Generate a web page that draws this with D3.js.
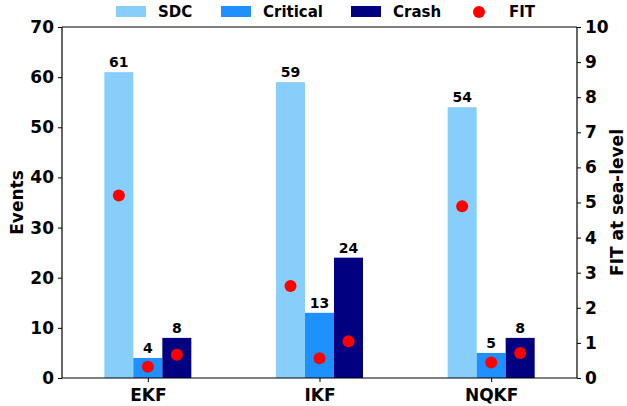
<!DOCTYPE html>
<html>
<head>
<meta charset="utf-8">
<script src="https://cdn.jsdelivr.net/npm/d3@7"></script>
<style>
  body { margin: 0; background: #fff; }
  text { font-family: "DejaVu Sans", sans-serif; font-weight: bold; }
</style>
</head>
<body>
<script>
"use strict";

// data
let filters = ["EKF", "IKF", "NQKF"];
let series = ["SDC", "Critical", "Crash"];
let colors = ["#87CEFA", "#1E90FF", "#000080"];
let sdc = [61, 59, 54];
let critical = [4, 13, 5];
let crash = [8, 24, 8];
let fitSdc = [5.2, 2.62, 4.89];
let fitCritical = [0.32, 0.56, 0.44];
let fitCrash = [0.66, 1.05, 0.71];
let eventTicks = [0, 10, 20, 30, 40, 50, 60, 70];
let fitTicks = [0, 1, 2, 3, 4, 5, 6, 7, 8, 9, 10];

let W = 627, H = 406;
let margin = {top: 27, right: 50, bottom: 28, left: 62};
let width = W - margin.left - margin.right,
    height = H - margin.top - margin.bottom;

let svg = d3.select("body").append("svg")
    .attr("width", W)
    .attr("height", H);

let g = svg.append("g")
    .attr("transform", "translate(" + margin.left + "," + margin.top + ")");

let x = d3.scalePoint().domain(filters).range([0, width]).padding(0.5);
let y = d3.scaleLinear().domain([0, 70]).range([height, 0]);
let y2 = d3.scaleLinear().domain([0, 10]).range([height, 0]);

let barW = 29;
let counts = [sdc, critical, crash];
let fits = [fitSdc, fitCritical, fitCrash];

let rows = [];
filters.forEach(function (f, i) {
    series.forEach(function (s, j) {
        rows.push({filter: f, s: j, v: counts[j][i], fit: fits[j][i]});
    });
});

function bx(d) {
    return x(d.filter) + (d.s - 1) * barW;
}

// bars
g.selectAll("rect.bar")
    .data(rows)
    .enter().append("rect")
    .attr("class", "bar")
    .attr("x", d => bx(d) - barW / 2)
    .attr("width", barW)
    .attr("y", d => y(d.v))
    .attr("height", d => height - y(d.v))
    .attr("fill", d => colors[d.s]);

// value labels
g.selectAll("text.val")
    .data(rows)
    .enter().append("text")
    .attr("class", "val")
    .attr("x", d => bx(d))
    .attr("y", d => y(d.v) - 5)
    .attr("text-anchor", "middle")
    .style("font-size", "14px")
    .text(d => d.v);

// FIT dots
g.selectAll("circle.fit")
    .data(rows)
    .enter().append("circle")
    .attr("class", "fit")
    .attr("cx", d => bx(d))
    .attr("cy", d => y2(d.fit))
    .attr("r", 6)
    .attr("fill", "red");

// axes
let left = g.append("g")
    .call(d3.axisLeft(y).tickValues(eventTicks).tickSize(4).tickPadding(4));
let right = g.append("g")
    .attr("transform", "translate(" + width + ",0)")
    .call(d3.axisRight(y2).tickValues(fitTicks).tickSize(4).tickPadding(4));
let bottom = g.append("g")
    .attr("transform", "translate(0," + height + ")")
    .call(d3.axisBottom(x).tickSize(4).tickPadding(4));

[left, right, bottom].forEach(function (a) {
    a.selectAll("text").style("font-size", "17px").attr("fill", "#000");
    a.selectAll("line").attr("stroke", "#000");
    a.select(".domain").attr("stroke", "#000").attr("stroke-width", 1.2);
});
bottom.select(".domain").attr("d", "M0,0H" + width);
left.select(".domain").attr("d", "M0," + height + "V0");
right.select(".domain").attr("d", "M0," + height + "V0");
bottom.selectAll("text").attr("dy", "0.9em");

// top spine
g.append("line")
    .attr("x1", 0).attr("x2", width)
    .attr("y1", 0).attr("y2", 0)
    .attr("stroke", "#000").attr("stroke-width", 1.2);

// axis titles
svg.append("text")
    .attr("transform", "translate(23," + (margin.top + height / 2) + ") rotate(-90)")
    .attr("text-anchor", "middle")
    .style("font-size", "17px")
    .text("Events");
svg.append("text")
    .attr("transform", "translate(" + (W - 4) + "," + (margin.top + height / 2) + ") rotate(-90)")
    .attr("text-anchor", "middle")
    .style("font-size", "17px")
    .text("FIT at sea-level");

// legend
let legend = svg.append("g");
let legX = [116, 221, 351];
series.forEach(function (s, j) {
    legend.append("rect")
        .attr("x", legX[j]).attr("y", 6)
        .attr("width", 30).attr("height", 11)
        .attr("fill", colors[j]);
    legend.append("text")
        .attr("x", legX[j] + 42).attr("y", 17)
        .style("font-size", "15px")
        .text(s);
});
legend.append("circle")
    .attr("cx", 479).attr("cy", 12).attr("r", 6).attr("fill", "red");
legend.append("text")
    .attr("x", 509).attr("y", 17)
    .style("font-size", "15px")
    .text("FIT");
</script>
</body>
</html>
